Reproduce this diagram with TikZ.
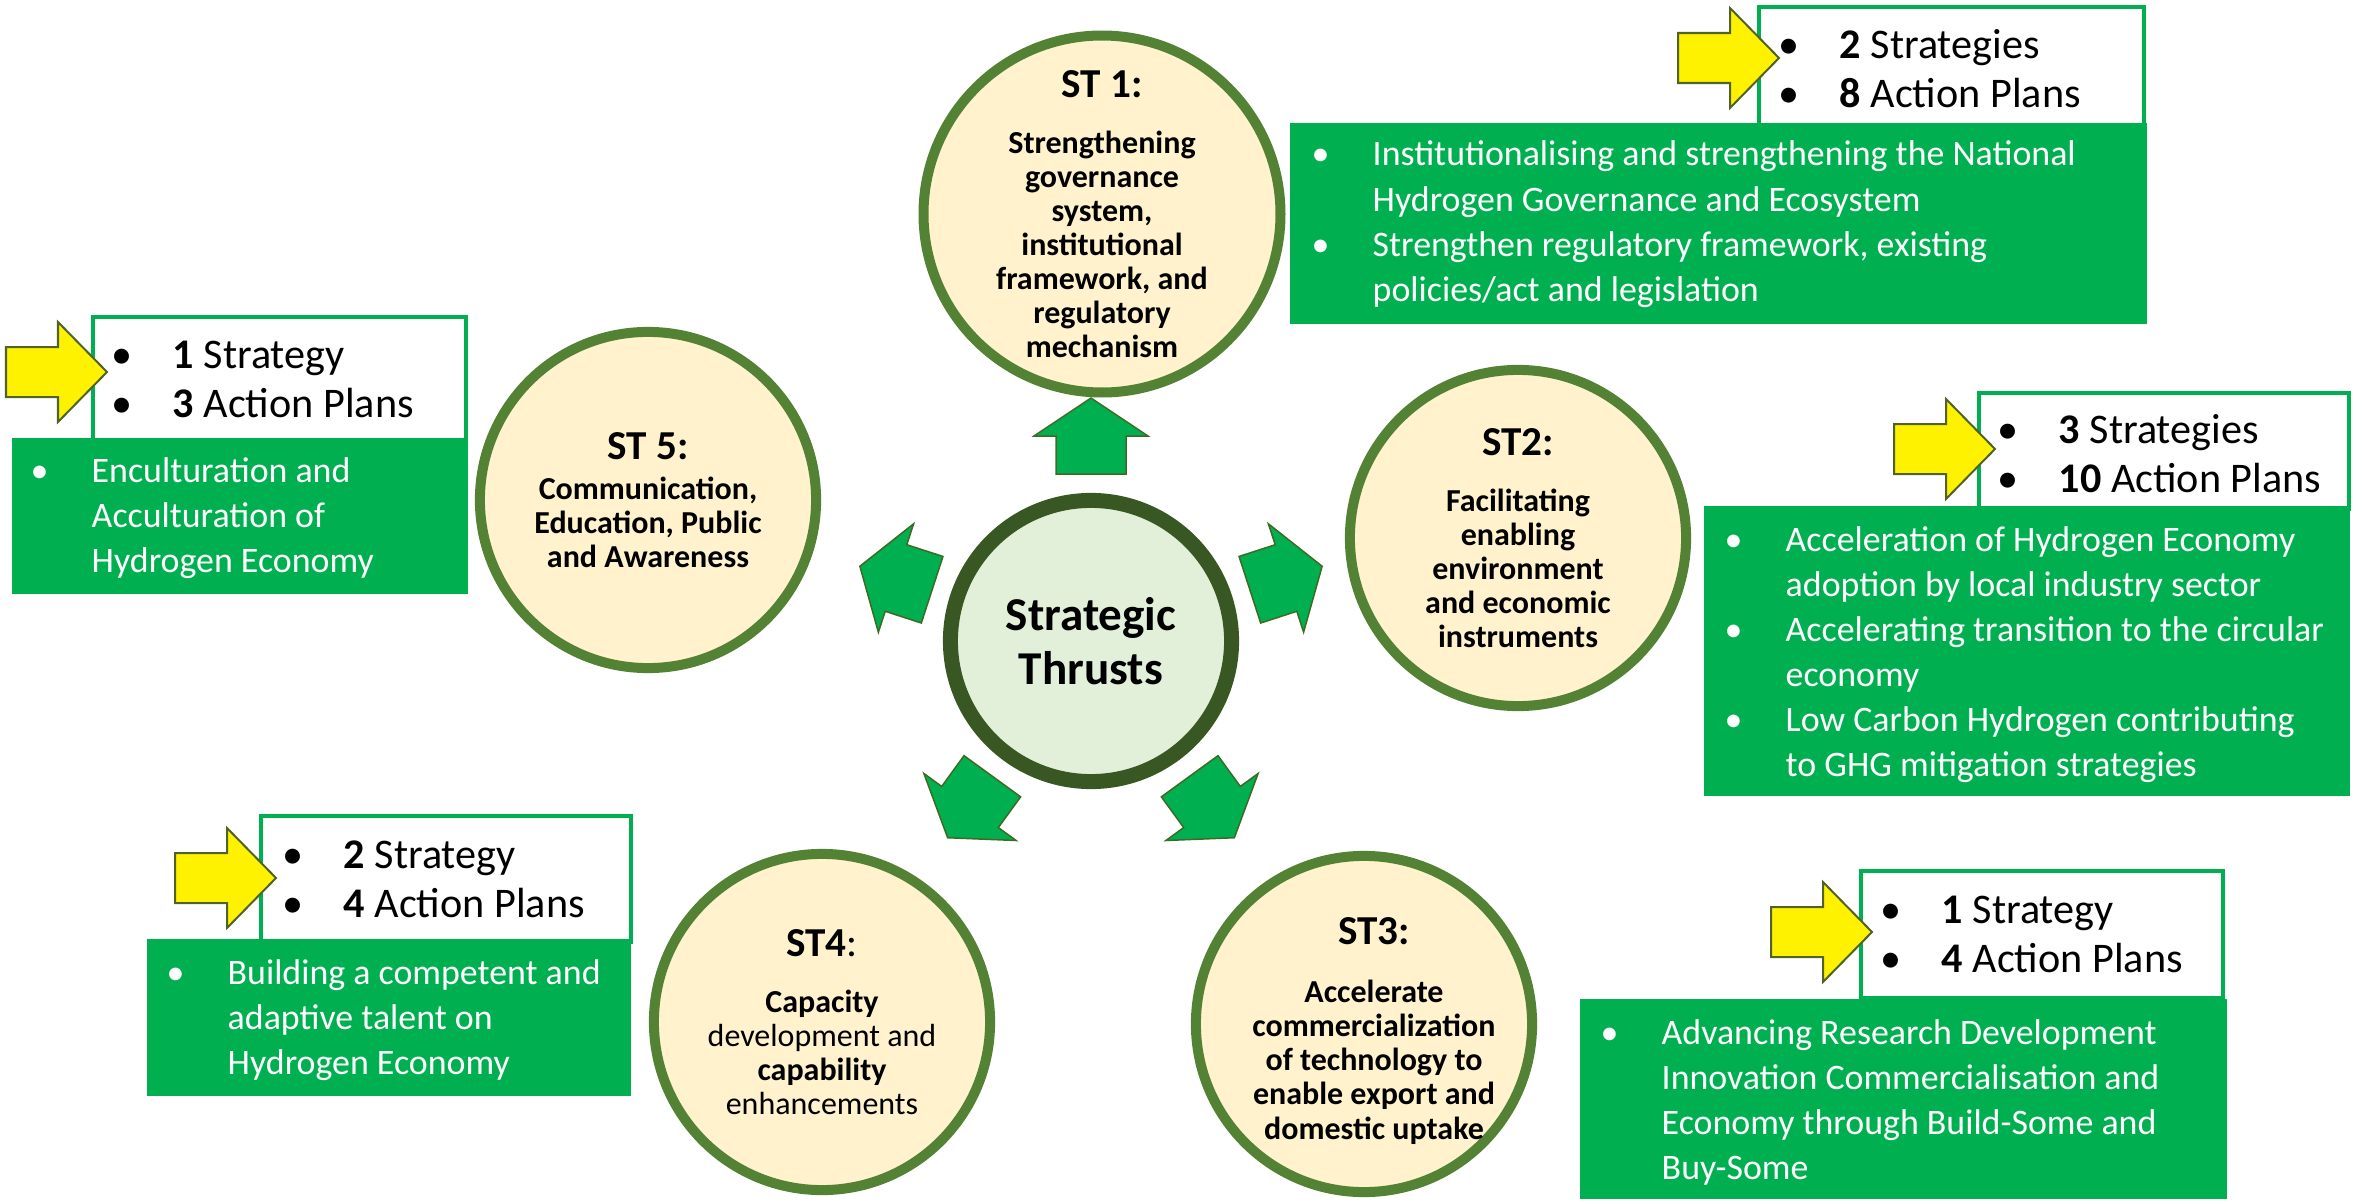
\documentclass[tikz,border=0pt]{standalone}
\usepackage{fontspec}
\setmainfont{Carlito}

\definecolor{ringgreen}{HTML}{548235}
\definecolor{corering}{HTML}{385723}
\definecolor{corefill}{HTML}{E2F0D9}
\definecolor{stfill}{HTML}{FFF2CC}
\definecolor{boxgreen}{HTML}{00B050}
\definecolor{arrowedge}{HTML}{3D6B26}
\definecolor{pointeredge}{HTML}{4F6228}

\newcommand{\sttitle}{\fontsize{11.7}{14}\selectfont\bfseries}
\newcommand{\stbody}{\fontsize{9.1}{9.67}\selectfont}
\newcommand{\countfont}{\fontsize{12}{14.2}\selectfont}
\newcommand{\goalfont}{\fontsize{10.2}{12.8}\selectfont}

\tikzset{
  thrust/.style={circle, draw=ringgreen, line width=0.1cm, fill=stfill, minimum size=3.36cm,
    inner sep=0pt, align=center, font=\stbody\bfseries},
  thrusttext/.style={inner sep=0pt, align=center, font=\stbody\bfseries},
  core/.style={circle, draw=corering, line width=0.15cm, fill=corefill, minimum size=2.81cm,
    inner sep=0pt, align=center, font=\fontsize{13.4}{15.4}\selectfont\bfseries},
  countbox/.style={draw=boxgreen, line width=0.04cm, fill=white, anchor=north west, inner sep=0pt},
  goalbox/.style={fill=boxgreen, anchor=north west, inner sep=0pt},
  countlist/.style={anchor=base west, inner sep=0pt, font=\countfont},
  goallist/.style={anchor=base west, inner sep=0pt, font=\goalfont, text=white},
  outarrow/.pic={\draw[fill=boxgreen, draw=arrowedge, line width=0.015cm]
    (-38,-35) -- (0,-35) -- (0,-57) -- (38,0) -- (0,57) -- (0,35) -- (-38,35) -- cycle;},
  pointer/.pic={\draw[fill=yellow, draw=pointeredge, line width=0.02cm]
    (-101,-25) -- (-49,-25) -- (-49,-50) -- (0,0) -- (-49,50) -- (-49,25) -- (-101,25) -- cycle;}
}

\begin{document}
\begin{tikzpicture}[x=0.01cm, y=-0.01cm]
\useasboundingbox (0,0) rectangle (2356,1203);

\node[core] (core) at (1091,641) {Strategic\\Thrusts};

\pic[rotate=90] at (1091,436) {outarrow};
\pic[rotate=18] at (1286,578) {outarrow};
\pic[rotate=162] at (896,578) {outarrow};
\pic[rotate=234] at (970,807) {outarrow};
\pic[rotate=306] at (1212,807) {outarrow};

\node[thrust] (st1) at (1102,214) {{\sttitle ST 1:}\\[0.22cm]Strengthening\\governance\\system,\\institutional\\framework, and\\regulatory\\mechanism};
\node[thrust] (st2) at (1518,538) {{\sttitle ST2:}\\[0.22cm]Facilitating\\enabling\\environment\\and economic\\instruments};
\node[thrust] (st3) at (1364,1024) {};
\node[thrusttext] (st3t) at (1374,1031) {{\sttitle ST3:}\\[0.24cm]Accelerate\\commercialization\\of technology to\\enable export and\\domestic uptake};
\node[thrust] (st4) at (822,1022) {{\sttitle ST4\mdseries:}\\[0.22cm]Capacity\\\mdseries development and\\capability\\\mdseries enhancements};
\node[thrust] (st5) at (648,500) {{\sttitle ST 5:}\\[0.06cm]Communication,\\Education, Public\\and Awareness};

\node[countbox, minimum width=3.85cm, minimum height=1.18cm] (c1) at (1757,5) {};
\node[goalbox, minimum width=8.57cm, minimum height=2.01cm] (g1) at (1289,122) {};
\pic at (1779,58) {pointer};
\node[countlist] (c1t) at (1778,58) {\begin{tabular}[t]{@{}p{0.61cm}@{}l@{}}
  \textbullet & \textbf{2} Strategies\\ \textbullet & \textbf{8} Action Plans\end{tabular}};
\node[goallist] (g1t) at (1311,166) {\begin{tabular}[t]{@{}p{0.61cm}@{}l@{}}
  \textbullet & Institutionalising and strengthening the National\\ & Hydrogen Governance and Ecosystem\\
  \textbullet & Strengthen regulatory framework, existing\\ & policies/act and legislation\end{tabular}};

\node[countbox, minimum width=3.70cm, minimum height=1.16cm] (c2) at (1977,391) {};
\node[goalbox, minimum width=6.46cm, minimum height=2.90cm] (g2) at (1703,505) {};
\pic at (1995,449) {pointer};
\node[countlist] (c2t) at (1997,443) {\begin{tabular}[t]{@{}p{0.61cm}@{}l@{}}
  \textbullet & \textbf{3} Strategies\\ \textbullet & \textbf{10} Action Plans\end{tabular}};
\node[goallist] (g2t) at (1724,551) {\begin{tabular}[t]{@{}p{0.61cm}@{}l@{}}
  \textbullet & Acceleration of Hydrogen Economy\\ & adoption by local industry sector\\
  \textbullet & Accelerating transition to the circular\\ & economy\\
  \textbullet & Low Carbon Hydrogen contributing\\ & to GHG mitigation strategies\end{tabular}};

\node[countbox, minimum width=3.62cm, minimum height=1.27cm] (c3) at (1859,869) {};
\node[goalbox, minimum width=6.47cm, minimum height=2.00cm] (g3) at (1579,998) {};
\pic at (1872,932) {pointer};
\node[countlist] (c3t) at (1880,923) {\begin{tabular}[t]{@{}p{0.61cm}@{}l@{}}
  \textbullet & \textbf{1} Strategy\\ \textbullet & \textbf{4} Action Plans\end{tabular}};
\node[goallist] (g3t) at (1600,1044) {\begin{tabular}[t]{@{}p{0.61cm}@{}l@{}}
  \textbullet & Advancing Research Development\\ & Innovation Commercialisation and\\
  & Economy through Build-Some and\\ & Buy-Some\end{tabular}};

\node[countbox, minimum width=3.70cm, minimum height=1.26cm] (c4) at (259,814) {};
\node[goalbox, minimum width=4.84cm, minimum height=1.57cm] (g4) at (146,938) {};
\pic at (276,878) {pointer};
\node[countlist] (c4t) at (282,868) {\begin{tabular}[t]{@{}p{0.61cm}@{}l@{}}
  \textbullet & \textbf{2} Strategy\\ \textbullet & \textbf{4} Action Plans\end{tabular}};
\node[goallist] (g4t) at (166,984) {\begin{tabular}[t]{@{}p{0.61cm}@{}l@{}}
  \textbullet & Building a competent and\\ & adaptive talent on\\ & Hydrogen Economy\end{tabular}};

\node[countbox, minimum width=3.73cm, minimum height=1.24cm] (c5) at (91,315) {};
\node[goalbox, minimum width=4.56cm, minimum height=1.56cm] (g5) at (11,437) {};
\pic at (107,372) {pointer};
\node[countlist] (c5t) at (111,368) {\begin{tabular}[t]{@{}p{0.61cm}@{}l@{}}
  \textbullet & \textbf{1} Strategy\\ \textbullet & \textbf{3} Action Plans\end{tabular}};
\node[goallist] (g5t) at (30,482) {\begin{tabular}[t]{@{}p{0.61cm}@{}l@{}}
  \textbullet & Enculturation and\\ & Acculturation of\\ & Hydrogen Economy\end{tabular}};
\end{tikzpicture}
\end{document}
